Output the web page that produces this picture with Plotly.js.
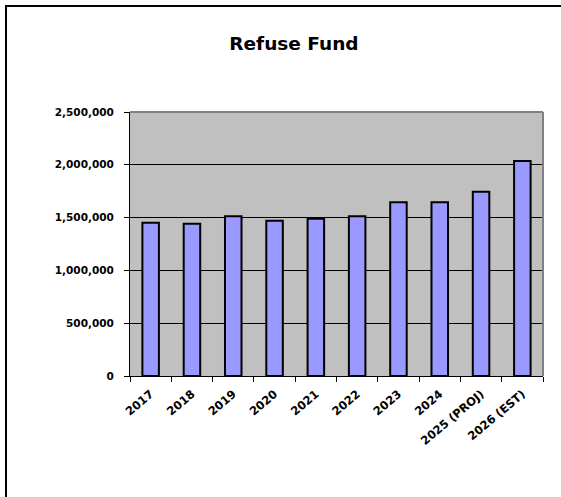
<!DOCTYPE html>
<html>
<head>
<meta charset="utf-8">
<script src="https://cdn.plot.ly/plotly-3.0.1.min.js"></script>
<style>
  html, body { margin: 0; padding: 0; background: #fff; }
  #wrap { position: relative; width: 561px; height: 497px; overflow: hidden; }
  #chart { position: absolute; left: 0; top: 0; width: 561px; height: 497px; }
  #frame { position: absolute; left: 5px; top: 5px; width: 570px; height: 510px;
           border-top: 2px solid #000; border-left: 2px solid #000; pointer-events: none; }
</style>
</head>
<body>
<div id="wrap">
  <div id="chart"></div>
  <div id="frame"></div>
</div>
<script>
const categories = ["2017", "2018", "2019", "2020", "2021", "2022", "2023", "2024", "2025 (PROJ)", "2026 (EST)"];
const values = [1452000, 1442000, 1512000, 1471000, 1490000, 1512000, 1645000, 1645000, 1745000, 2036000];
const yTicks = [0, 500000, 1000000, 1500000, 2000000, 2500000];
const chartTitle = "Refuse Fund";

const fontFam = "DejaVu Sans, Verdana, sans-serif";

const trace = {
  type: "bar",
  x: categories,
  y: values,
  width: 0.4,
  marker: { color: "#9999FF", line: { color: "#000000", width: 2 } },
  hoverinfo: "none"
};

const layout = {
  width: 561,
  height: 497,
  margin: { l: 130, r: 18, t: 112, b: 121 },
  paper_bgcolor: "rgba(0,0,0,0)",
  plot_bgcolor: "#C0C0C0",
  showlegend: false,
  title: {
    text: chartTitle,
    font: { family: fontFam, size: 18.5, color: "#000", weight: "bold" },
    x: 0.524, xref: "container", xanchor: "center",
    y: 0.913, yref: "container", yanchor: "middle"
  },
  xaxis: {
    type: "category",
    tickangle: -40,
    tickson: "boundaries",
    ticks: "outside",
    ticklen: 5,
    tickcolor: "#000",
    showline: true,
    linecolor: "#000",
    linewidth: 1,
    showgrid: false,
    ticklabelstandoff: 6,
    tickfont: { family: fontFam, size: 11.5, color: "#000", weight: "bold" },
    range: [-0.5, categories.length - 0.5]
  },
  yaxis: {
    range: [0, 2500000],
    tickvals: yTicks,
    tickformat: ",d",
    ticks: "outside",
    ticklen: 5,
    tickcolor: "#000",
    showline: true,
    linecolor: "#000",
    linewidth: 1,
    showgrid: true,
    gridcolor: "#000",
    gridwidth: 1,
    zeroline: false,
    ticklabelstandoff: 8,
    tickfont: { family: fontFam, size: 10.5, color: "#000", weight: "bold" }
  },
  shapes: [
    { type: "line", xref: "paper", yref: "paper", x0: 0, x1: 1, y0: 1, y1: 1,
      line: { color: "#808080", width: 2 } },
    { type: "line", xref: "paper", yref: "paper", x0: 1, x1: 1, y0: 0, y1: 1,
      line: { color: "#808080", width: 2 } }
  ]
};

Plotly.newPlot("chart", [trace], layout, { displayModeBar: false, staticPlot: true });
</script>
</body>
</html>
